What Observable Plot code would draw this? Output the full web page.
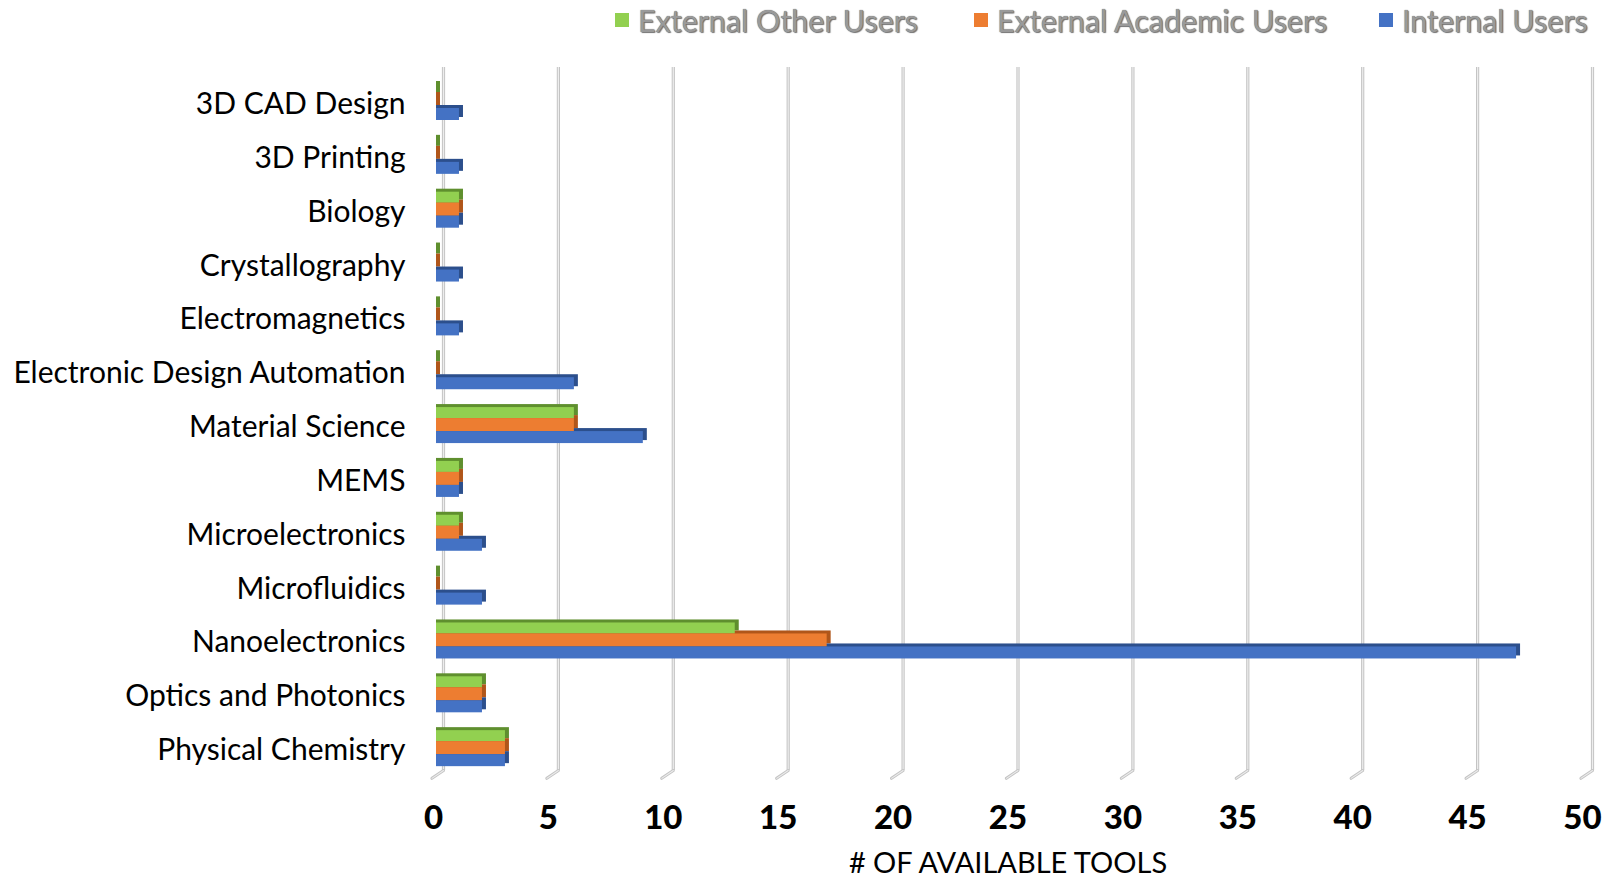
<!DOCTYPE html>
<html>
<head>
<meta charset="utf-8">
<script src="https://cdn.jsdelivr.net/npm/d3@7"></script>
<script src="https://cdn.jsdelivr.net/npm/@observablehq/plot@0.6"></script>
<style>
  html, body { margin: 0; padding: 0; background: #fff; }
  #wrap { position: relative; width: 1607px; height: 880px; overflow: hidden; }
  #legend { position: absolute; top: 0; left: 0; width: 1607px; height: 42px; font-family: Lato, "Open Sans", sans-serif; font-size: 30.5px; }
  .item { position: absolute; top: 1px; display: flex; align-items: center; height: 38px; white-space: nowrap; }
  .sw { width: 14px; height: 14px; margin-right: 9px; }
  .lab { color: #9a9a9a; text-shadow: 0 0 1px #555, 1px 1px 1px #777; }
  svg { position: absolute; top: 0; left: 0; }
</style>
</head>
<body>
<div id="wrap">
  <div id="legend"></div>
</div>
<script>
const categories = ["3D CAD Design", "3D Printing", "Biology", "Crystallography", "Electromagnetics",
  "Electronic Design Automation", "Material Science", "MEMS", "Microelectronics", "Microfluidics",
  "Nanoelectronics", "Optics and Photonics", "Physical Chemistry"];
const seriesNames = ["External Other Users", "External Academic Users", "Internal Users"];
const externalOther    = [0, 0, 1, 0, 0, 0, 6, 1, 1, 0, 13, 2, 3];
const externalAcademic = [0, 0, 1, 0, 0, 0, 6, 1, 1, 0, 17, 2, 3];
const internalUsers    = [1, 1, 1, 1, 1, 6, 9, 1, 2, 2, 47, 2, 3];
const xTicks = [0, 5, 10, 15, 20, 25, 30, 35, 40, 45, 50];
const xTitle = "# OF AVAILABLE TOOLS";

const colors = ["#92d050", "#ed7d31", "#4472c4"];
const darks  = ["#5f8f2e", "#b0561a", "#2c4f8c"];
const seriesValues = [externalOther, externalAcademic, internalUsers];

const rows = [];
seriesValues.forEach((vals, s) => vals.forEach((v, i) => rows.push({cat: categories[i], series: seriesNames[s], s, value: v})));

const bandH = 700 / 13;
// vertical placement of each series inside the category band (front faces)
const insets = [[7, bandH - 18], [18, bandH - 31], [31, bandH - 43]];

function barsFor(s, back) {
  const data = rows.filter(d => d.s === s);
  return Plot.barX(data, {
    x1: 0, x2: "value", y: "cat",
    fill: back ? darks[s] : colors[s],
    insetTop: insets[s][0], insetBottom: insets[s][1],
    insetRight: back ? -4 : 0,
    dy: back ? -3 : 0
  });
}

const chart = Plot.plot({
  width: 1607,
  height: 880,
  marginLeft: 436,
  marginRight: 22,
  marginTop: 77,
  marginBottom: 103,
  x: {domain: [0, 50], axis: null},
  y: {domain: categories, padding: 0, round: false, axis: null},
  style: {background: "transparent"},
  marks: [
    Plot.ruleX(xTicks, {x: d => d, dx: 7, stroke: "#c4c4c4", strokeWidth: 3.2, insetTop: -10, insetBottom: 7}),
    Plot.ruleX(xTicks, {x: d => d, dx: 7, stroke: "#ededed", strokeWidth: 1.2, insetTop: -10, insetBottom: 7}),
    Plot.vector(xTicks, {x: d => d, frameAnchor: "bottom", dx: 7, dy: -7, length: 14, rotate: 236, anchor: "start",
      stroke: "#c4c4c4", strokeWidth: 3,
      shape: {draw(ctx, l) { ctx.moveTo(0, 0); ctx.lineTo(0, -l); }}}),
    Plot.vector(xTicks, {x: d => d, frameAnchor: "bottom", dx: 7, dy: -7, length: 14, rotate: 236, anchor: "start",
      stroke: "#ededed", strokeWidth: 1,
      shape: {draw(ctx, l) { ctx.moveTo(0, 0); ctx.lineTo(0, -l); }}}),
    barsFor(0, true), barsFor(1, true), barsFor(2, true),
    barsFor(0, false), barsFor(1, false), barsFor(2, false),
    Plot.text(categories, {y: d => d, frameAnchor: "left", dx: -31, textAnchor: "end", lineAnchor: "middle",
      fontSize: 30, fill: "#000", fontFamily: "Lato, sans-serif"}),
    Plot.text(xTicks, {x: d => d, text: d => String(d), frameAnchor: "bottom", lineAnchor: "middle", dy: 41, dx: -3,
      fontSize: 33, fontWeight: 900, fill: "#000", fontFamily: "Lato, sans-serif"}),
    Plot.text([xTitle], {text: d => d, frameAnchor: "bottom", lineAnchor: "middle", dy: 86, dx: -3,
      fontSize: 29, fill: "#000", fontFamily: "Lato, sans-serif"})
  ]
});
document.getElementById("wrap").appendChild(chart);

const legend = document.getElementById("legend");
const lx = [615, 974, 1379];
seriesNames.forEach((name, i) => {
  const it = document.createElement("div");
  it.className = "item";
  it.style.left = lx[i] + "px";
  it.innerHTML = `<div class="sw" style="background:${colors[i]}"></div><span class="lab">${name}</span>`;
  legend.appendChild(it);
});
</script>
</body>
</html>
